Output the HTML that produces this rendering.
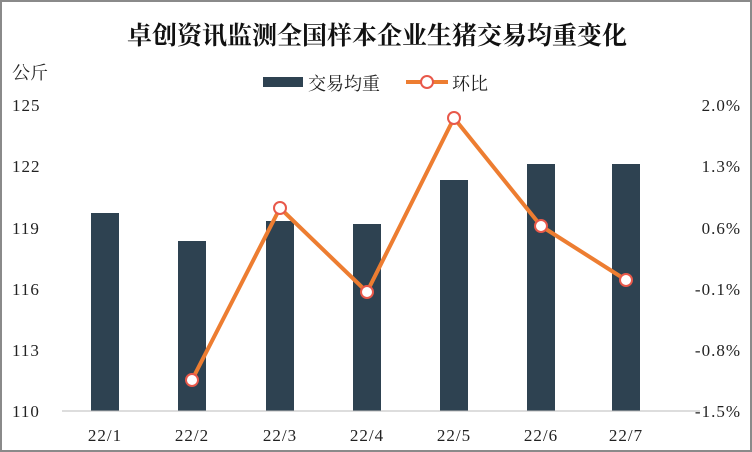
<!DOCTYPE html>
<html><head><meta charset="utf-8"><style>
html,body{margin:0;padding:0;background:#fff}
</style></head><body>
<svg width="752" height="452" xmlns="http://www.w3.org/2000/svg" style="display:block">
<rect x="1" y="1" width="750" height="450" fill="#fff" stroke="#8a8a8a" stroke-width="2"/>
<text x="377" y="44" text-anchor="middle" font-family="'Liberation Serif','Noto Serif CJK SC',serif" font-weight="bold" font-size="25" fill="#111">卓创资讯监测全国样本企业生猪交易均重变化</text>
<text x="12" y="79" font-family="'Liberation Serif','Noto Serif CJK SC',serif" font-size="18" fill="#222">公斤</text>
<rect x="263" y="77" width="40" height="10" fill="#2e4251"/>
<text x="308" y="90" font-family="'Liberation Serif','Noto Serif CJK SC',serif" font-size="18" fill="#222">交易均重</text>
<line x1="406" y1="82" x2="448" y2="82" stroke="#ed7d31" stroke-width="4"/>
<circle cx="427" cy="82" r="6" fill="#fff" stroke="#e8584a" stroke-width="2"/>
<text x="452" y="90" font-family="'Liberation Serif','Noto Serif CJK SC',serif" font-size="18" fill="#222">环比</text>
<g font-family="'Liberation Serif',serif" font-size="17" fill="#222" letter-spacing="1">
<text x="12" y="111">125</text><text x="12" y="172">122</text><text x="12" y="234">119</text><text x="12" y="295">116</text><text x="12" y="356">113</text><text x="12" y="417">110</text>
<text x="741" y="111" text-anchor="end">2.0%</text><text x="741" y="172" text-anchor="end">1.3%</text><text x="741" y="234" text-anchor="end">0.6%</text><text x="741" y="295" text-anchor="end">-0.1%</text><text x="741" y="356" text-anchor="end">-0.8%</text><text x="741" y="417" text-anchor="end">-1.5%</text>
<text x="105" y="441" text-anchor="middle">22/1</text><text x="192" y="441" text-anchor="middle">22/2</text><text x="280" y="441" text-anchor="middle">22/3</text><text x="367" y="441" text-anchor="middle">22/4</text><text x="454" y="441" text-anchor="middle">22/5</text><text x="541" y="441" text-anchor="middle">22/6</text><text x="626" y="441" text-anchor="middle">22/7</text>
</g>
<g fill="#2e4251">
<rect x="91" y="213" width="28" height="198"/>
<rect x="178" y="241" width="28" height="170"/>
<rect x="266" y="221" width="28" height="190"/>
<rect x="353" y="224" width="28" height="187"/>
<rect x="440" y="180" width="28" height="231"/>
<rect x="527" y="164" width="28" height="247"/>
<rect x="612" y="164" width="28" height="247"/>
</g>
<line x1="62" y1="411" x2="700" y2="411" stroke="#bbb" stroke-width="1"/>
<polyline points="192,380 280,208 367,292 454,118 541,226 626,280" fill="none" stroke="#ed7d31" stroke-width="4" stroke-linejoin="round"/>
<g fill="#fff" stroke="#e8584a" stroke-width="2">
<circle cx="192" cy="380" r="6"/><circle cx="280" cy="208" r="6"/><circle cx="367" cy="292" r="6"/><circle cx="454" cy="118" r="6"/><circle cx="541" cy="226" r="6"/><circle cx="626" cy="280" r="6"/>
</g>
</svg>
</body></html>
